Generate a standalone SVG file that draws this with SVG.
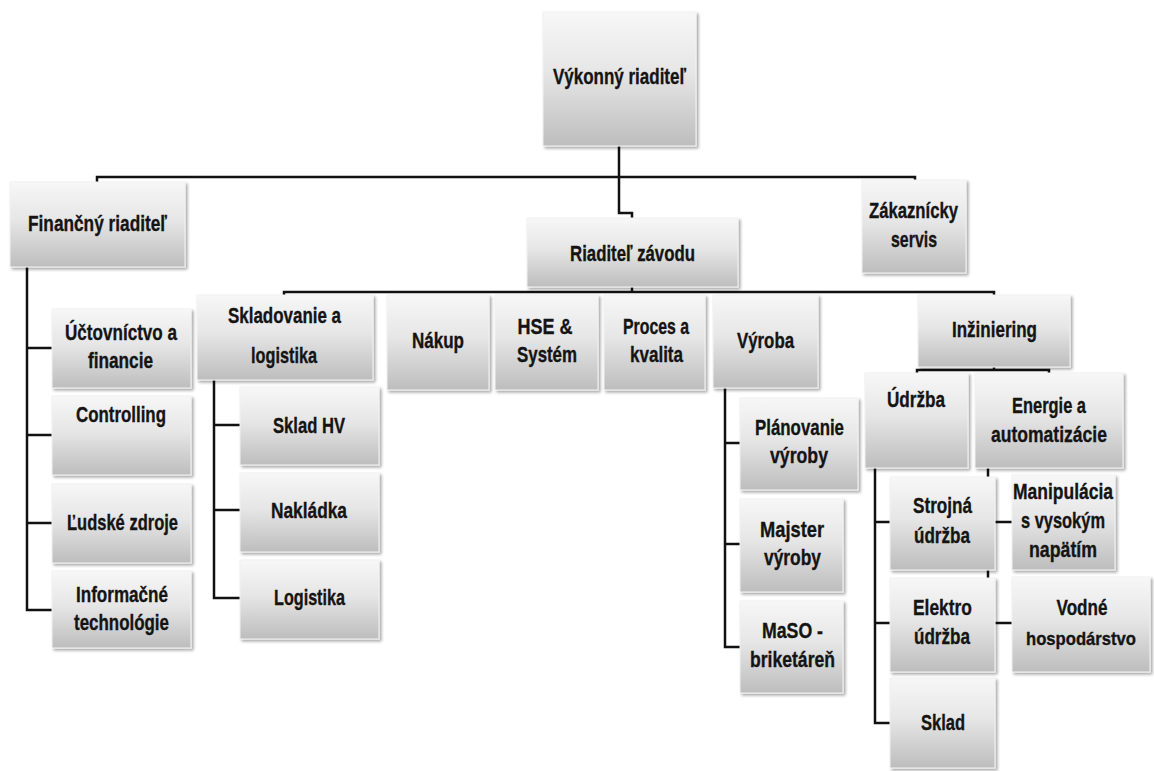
<svg xmlns="http://www.w3.org/2000/svg" width="1154" height="771" viewBox="0 0 1154 771">
  <defs>
    <linearGradient id="boxFill" x1="0" y1="0" x2="0" y2="1">
      <stop offset="0" stop-color="#f7f7f7"/>
      <stop offset="0.45" stop-color="#e6e6e6"/>
      <stop offset="1" stop-color="#bdbdbd"/>
    </linearGradient>
    <filter id="shadow" x="-10%" y="-10%" width="125%" height="130%">
      <feGaussianBlur in="SourceAlpha" stdDeviation="1.4"/>
      <feOffset dx="1.5" dy="2" result="off"/>
      <feComponentTransfer><feFuncA type="linear" slope="0.35"/></feComponentTransfer>
      <feMerge><feMergeNode/><feMergeNode in="SourceGraphic"/></feMerge>
    </filter>
  </defs>
  <style>
    .box { fill: url(#boxFill); stroke: #f2f2f2; stroke-width: 1; filter: url(#shadow); }
    .lbl { font-family: "Liberation Sans", Arial, sans-serif; font-weight: bold; font-size: 22.5px; fill: #141414; stroke: #141414; stroke-width: 0.35; text-anchor: middle; }
    .lbl.small { font-size: 19px; }
    .wire { fill: none; stroke: #111; stroke-width: 2.5; stroke-linejoin: miter; }
  </style>
  <rect width="1154" height="771" fill="#ffffff"/>

  <!-- connectors -->
  <g id="connectors" class="wire">
    <path d="M619 146 V213 H632 V218"/>
    <path d="M97 182 V177 H915 V181"/>
    <path d="M27 267 V610 H52 M27 348 H52 M27 435 H52 M27 523 H52"/>
    <path d="M284 296 V292 H994 V296 M632 287 V292"/>
    <path d="M214 380 V598 H240 M214 425 H240 M214 510 H240"/>
    <path d="M725 388 V647 H740 M725 443 H740 M725 544 H740"/>
    <path d="M917 374 V370 H1049 V374 M994 367 V370"/>
    <path d="M875 468 V723 H890 M875 522 H890 M875 623 H890"/>
    <path d="M988 468 V623 H1012 M988 522 H1012"/>
  </g>

  <!-- level 0 -->
  <g id="n-vykonny">
    <rect class="box" x="543" y="12" width="153" height="134"/>
    <text class="lbl" x="619.5" y="84" textLength="133" lengthAdjust="spacingAndGlyphs">Výkonný riaditeľ</text>
  </g>

  <!-- level 1 -->
  <g id="n-financny">
    <rect class="box" x="10" y="182" width="175" height="85"/>
    <text class="lbl" x="97.5" y="231" textLength="139" lengthAdjust="spacingAndGlyphs">Finančný riaditeľ</text>
  </g>
  <g id="n-zavod">
    <rect class="box" x="527" y="218" width="211" height="69"/>
    <text class="lbl" x="632.5" y="261" textLength="125" lengthAdjust="spacingAndGlyphs">Riaditeľ závodu</text>
  </g>
  <g id="n-zakaznicky">
    <rect class="box" x="862" y="180" width="104" height="93"/>
    <text class="lbl" x="913.5" y="218" textLength="89" lengthAdjust="spacingAndGlyphs">Zákaznícky</text>
    <text class="lbl" x="914" y="247" textLength="46" lengthAdjust="spacingAndGlyphs">servis</text>
  </g>

  <!-- finance branch -->
  <g id="n-uctovnictvo">
    <rect class="box" x="52" y="309" width="139" height="79"/>
    <text class="lbl" x="121" y="340" textLength="112" lengthAdjust="spacingAndGlyphs">Účtovníctvo a</text>
    <text class="lbl" x="120.5" y="368" textLength="65" lengthAdjust="spacingAndGlyphs">financie</text>
  </g>
  <g id="n-controlling">
    <rect class="box" x="52" y="396" width="139" height="79"/>
    <text class="lbl" x="121" y="422" textLength="90" lengthAdjust="spacingAndGlyphs">Controlling</text>
  </g>
  <g id="n-ludske">
    <rect class="box" x="52" y="484" width="139" height="79"/>
    <text class="lbl" x="122.5" y="530" textLength="111" lengthAdjust="spacingAndGlyphs">Ľudské zdroje</text>
  </g>
  <g id="n-informacne">
    <rect class="box" x="52" y="571" width="139" height="77"/>
    <text class="lbl" x="122" y="602" textLength="92" lengthAdjust="spacingAndGlyphs">Informačné</text>
    <text class="lbl" x="121.5" y="630" textLength="95" lengthAdjust="spacingAndGlyphs">technológie</text>
  </g>

  <!-- plant director branch -->
  <g id="n-skladovanie">
    <rect class="box" x="197" y="295" width="176" height="85"/>
    <text class="lbl" x="284.5" y="323" textLength="113" lengthAdjust="spacingAndGlyphs">Skladovanie a</text>
    <text class="lbl" x="284" y="363" textLength="66" lengthAdjust="spacingAndGlyphs">logistika</text>
  </g>
  <g id="n-nakup">
    <rect class="box" x="387" y="295" width="102" height="95"/>
    <text class="lbl" x="438" y="348" textLength="52" lengthAdjust="spacingAndGlyphs">Nákup</text>
  </g>
  <g id="n-hse">
    <rect class="box" x="495" y="295" width="103" height="95"/>
    <text class="lbl" x="545" y="334" textLength="55" lengthAdjust="spacingAndGlyphs">HSE &amp;</text>
    <text class="lbl" x="547" y="362" textLength="60" lengthAdjust="spacingAndGlyphs">Systém</text>
  </g>
  <g id="n-proces">
    <rect class="box" x="604" y="295" width="101" height="95"/>
    <text class="lbl" x="656" y="334" textLength="66" lengthAdjust="spacingAndGlyphs">Proces a</text>
    <text class="lbl" x="656.5" y="362" textLength="53" lengthAdjust="spacingAndGlyphs">kvalita</text>
  </g>
  <g id="n-vyroba">
    <rect class="box" x="713" y="295" width="105" height="93"/>
    <text class="lbl" x="765.5" y="348" textLength="57" lengthAdjust="spacingAndGlyphs">Výroba</text>
  </g>
  <g id="n-inziniering">
    <rect class="box" x="918" y="295" width="152" height="72"/>
    <text class="lbl" x="994.5" y="337" textLength="85" lengthAdjust="spacingAndGlyphs">Inžiniering</text>
  </g>

  <!-- storage and logistics -->
  <g id="n-sklad-hv">
    <rect class="box" x="240" y="387" width="139" height="78"/>
    <text class="lbl" x="309" y="433" textLength="72" lengthAdjust="spacingAndGlyphs">Sklad HV</text>
  </g>
  <g id="n-nakladka">
    <rect class="box" x="240" y="473" width="139" height="79"/>
    <text class="lbl" x="309" y="518" textLength="76" lengthAdjust="spacingAndGlyphs">Nakládka</text>
  </g>
  <g id="n-logistika">
    <rect class="box" x="240" y="560" width="139" height="79"/>
    <text class="lbl" x="309.5" y="605" textLength="71" lengthAdjust="spacingAndGlyphs">Logistika</text>
  </g>

  <!-- production -->
  <g id="n-planovanie">
    <rect class="box" x="740" y="398" width="118" height="92"/>
    <text class="lbl" x="799.5" y="435" textLength="89" lengthAdjust="spacingAndGlyphs">Plánovanie</text>
    <text class="lbl" x="799" y="463" textLength="58" lengthAdjust="spacingAndGlyphs">výroby</text>
  </g>
  <g id="n-majster">
    <rect class="box" x="740" y="499" width="103" height="93"/>
    <text class="lbl" x="792" y="537" textLength="64" lengthAdjust="spacingAndGlyphs">Majster</text>
    <text class="lbl" x="792.5" y="565" textLength="57" lengthAdjust="spacingAndGlyphs">výroby</text>
  </g>
  <g id="n-maso">
    <rect class="box" x="740" y="601" width="103" height="92"/>
    <text class="lbl" x="792.5" y="638" textLength="61" lengthAdjust="spacingAndGlyphs">MaSO -</text>
    <text class="lbl" x="792.5" y="667" textLength="85" lengthAdjust="spacingAndGlyphs">briketáreň</text>
  </g>

  <!-- engineering -->
  <g id="n-udrzba">
    <rect class="box" x="865" y="373" width="103" height="95"/>
    <text class="lbl" x="916" y="407" textLength="58" lengthAdjust="spacingAndGlyphs">Údržba</text>
  </g>
  <g id="n-energie">
    <rect class="box" x="975" y="373" width="148" height="95"/>
    <text class="lbl" x="1049" y="413" textLength="74" lengthAdjust="spacingAndGlyphs">Energie a</text>
    <text class="lbl" x="1049" y="442" textLength="116" lengthAdjust="spacingAndGlyphs">automatizácie</text>
  </g>
  <g id="n-strojna">
    <rect class="box" x="890" y="477" width="105" height="93"/>
    <text class="lbl" x="942.5" y="513" textLength="59" lengthAdjust="spacingAndGlyphs">Strojná</text>
    <text class="lbl" x="942" y="543" textLength="56" lengthAdjust="spacingAndGlyphs">údržba</text>
  </g>
  <g id="n-elektro">
    <rect class="box" x="890" y="578" width="105" height="94"/>
    <text class="lbl" x="942.5" y="615" textLength="59" lengthAdjust="spacingAndGlyphs">Elektro</text>
    <text class="lbl" x="942" y="644" textLength="56" lengthAdjust="spacingAndGlyphs">údržba</text>
  </g>
  <g id="n-sklad">
    <rect class="box" x="890" y="678" width="105" height="90"/>
    <text class="lbl" x="943" y="730" textLength="44" lengthAdjust="spacingAndGlyphs">Sklad</text>
  </g>
  <g id="n-manipulacia">
    <rect class="box" x="1012" y="475" width="103" height="95"/>
    <text class="lbl" x="1063" y="499" textLength="100" lengthAdjust="spacingAndGlyphs">Manipulácia</text>
    <text class="lbl" x="1063" y="528" textLength="84" lengthAdjust="spacingAndGlyphs">s vysokým</text>
    <text class="lbl" x="1063" y="557" textLength="68" lengthAdjust="spacingAndGlyphs">napätím</text>
  </g>
  <g id="n-vodne">
    <rect class="box" x="1012" y="577" width="138" height="95"/>
    <text class="lbl" x="1082" y="615" textLength="51" lengthAdjust="spacingAndGlyphs">Vodné</text>
    <text class="lbl small" x="1081" y="645" textLength="110" lengthAdjust="spacingAndGlyphs">hospodárstvo</text>
  </g>
</svg>
